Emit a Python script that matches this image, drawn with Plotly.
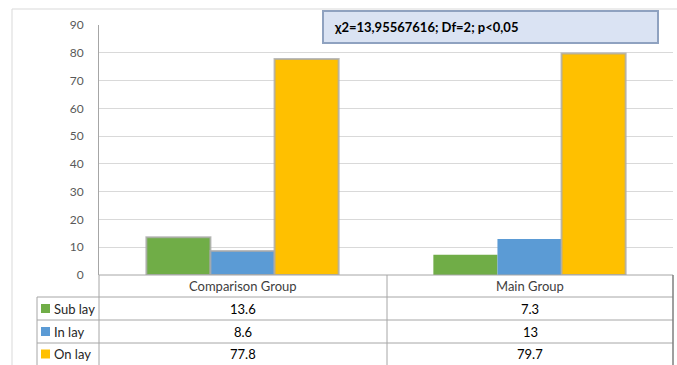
import plotly.graph_objects as go

# Data
groups = ["Comparison Group", "Main Group"]
series_names = ["Sub lay", "In lay", "On lay"]
sub_lay = [13.6, 7.3]
in_lay = [8.6, 13]
on_lay = [77.8, 79.7]
y_ticks = [0, 10, 20, 30, 40, 50, 60, 70, 80, 90]
stat_text = "χ2=13,95567616; Df=2; p<0,05"

colors = ["#70AD47", "#5B9BD5", "#FFC000"]
series_values = [sub_lay, in_lay, on_lay]
# soft grey edge on the bars that carry a shadow
edge_colors = [
    ["rgba(170,170,170,0.8)", "rgba(0,0,0,0)"],
    ["rgba(170,170,170,0.8)", "rgba(0,0,0,0)"],
    ["rgba(170,170,170,0.8)", "rgba(170,170,170,0.8)"],
]

W, H = 677, 365
L, R, T, B = 99, 4, 25, 90
plot_w = W - L - R
plot_h = H - T - B
FONT = "Lato, Open Sans, sans-serif"


def px(x):
    return (x - L) / plot_w


def py(y):
    return (H - B - y) / plot_h


fig = go.Figure()
for name, vals, col, edge in zip(series_names, series_values, colors, edge_colors):
    fig.add_trace(go.Bar(
        x=groups, y=vals, name=name,
        marker=dict(color=col, line=dict(color=edge, width=2)),
        showlegend=False,
    ))

shapes = []
grid_line = dict(color="#A6A6A6", width=1)
# outer chart frame
shapes.append(dict(type="line", xref="paper", yref="paper",
                   x0=px(12), x1=px(W), y0=py(9), y1=py(9),
                   line=dict(color="#D9D9D9", width=1)))
shapes.append(dict(type="line", xref="paper", yref="paper",
                   x0=px(12), x1=px(12), y0=py(9), y1=py(H),
                   line=dict(color="#D9D9D9", width=1)))
# data table rules
row_edges = [297, 320, 343]
for yy in row_edges:
    shapes.append(dict(type="line", xref="paper", yref="paper",
                       x0=px(37), x1=px(673), y0=py(yy), y1=py(yy), line=grid_line))
shapes.append(dict(type="line", xref="paper", yref="paper",
                   x0=px(99), x1=px(673), y0=py(275), y1=py(275), line=grid_line))
shapes.append(dict(type="line", xref="paper", yref="paper",
                   x0=px(37), x1=px(37), y0=py(297), y1=py(H), line=grid_line))
shapes.append(dict(type="line", xref="paper", yref="paper",
                   x0=px(99), x1=px(99), y0=py(275), y1=py(H), line=grid_line))
shapes.append(dict(type="line", xref="paper", yref="paper",
                   x0=px(387), x1=px(387), y0=py(275), y1=py(H), line=grid_line))
shapes.append(dict(type="line", xref="paper", yref="paper",
                   x0=px(673), x1=px(673), y0=py(275), y1=py(H),
                   line=dict(color="#7F7F7F", width=1.5)))
# legend keys
row_centers = [308.5, 331.5, 354]
for col, yc in zip(colors, row_centers):
    shapes.append(dict(type="rect", xref="paper", yref="paper",
                       x0=px(41), x1=px(50), y0=py(yc + 4.5), y1=py(yc - 4.5),
                       fillcolor=col, line=dict(width=0)))
# statistics box
shapes.append(dict(type="rect", xref="paper", yref="paper",
                   x0=px(323), x1=px(658), y0=py(43), y1=py(11),
                   fillcolor="#DAE3F3", line=dict(color="#8FA2C0", width=2)))

annotations = []
annotations.append(dict(xref="paper", yref="paper", x=px(332), y=py(27),
                        xanchor="left", yanchor="middle", showarrow=False,
                        text="<b>" + stat_text + "</b>",
                        font=dict(family=FONT, size=13, color="#000000")))
cat_centers = [243, 530]
for g, xc in zip(groups, cat_centers):
    annotations.append(dict(xref="paper", yref="paper", x=px(xc), y=py(286),
                            xanchor="center", yanchor="middle", showarrow=False,
                            text=g, font=dict(family=FONT, size=13, color="#404040")))
for name, vals, yc in zip(series_names, series_values, row_centers):
    annotations.append(dict(xref="paper", yref="paper", x=px(52), y=py(yc),
                            xanchor="left", yanchor="middle", showarrow=False,
                            text=name, font=dict(family=FONT, size=13, color="#262626")))
    for v, xc in zip(vals, cat_centers):
        annotations.append(dict(xref="paper", yref="paper", x=px(xc), y=py(yc),
                                xanchor="center", yanchor="middle", showarrow=False,
                                text=f"{v:g}", font=dict(family=FONT, size=13, color="#000000")))

fig.update_layout(
    width=W, height=H,
    margin=dict(l=L, r=R, t=T, b=B),
    paper_bgcolor="white", plot_bgcolor="white",
    barmode="group", bargap=0.33, bargroupgap=0,
    shapes=shapes, annotations=annotations,
    xaxis=dict(showticklabels=False, showgrid=False, zeroline=False,
               showline=False, range=[-0.5, 1.5], fixedrange=True),
    yaxis=dict(range=[0, 90], tickvals=y_ticks, showgrid=True, gridcolor="#D9D9D9",
               gridwidth=1, zeroline=False, showline=True, linecolor="#A6A6A6",
               linewidth=1, ticks="", ticklen=0,
               tickfont=dict(family=FONT, size=12, color="#595959"),
               ticklabelstandoff=12),
)

fig.write_html("out.html")
